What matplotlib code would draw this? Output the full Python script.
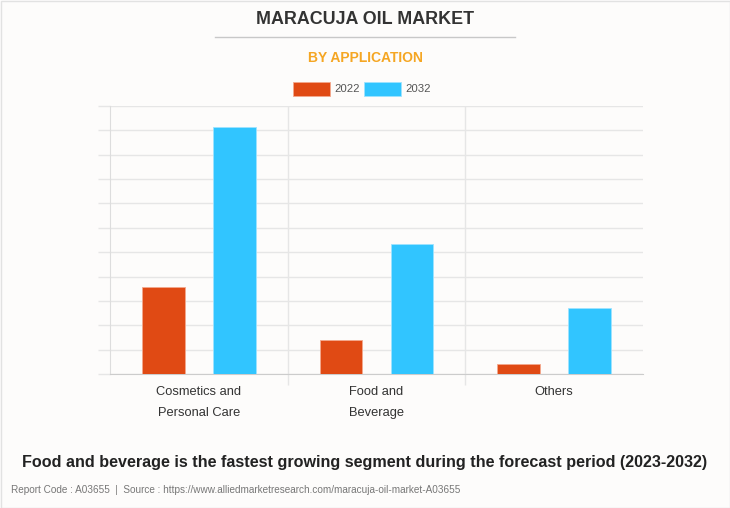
import matplotlib
matplotlib.use("Agg")
import matplotlib.pyplot as plt
from matplotlib import font_manager
from matplotlib.patches import Rectangle
from matplotlib.lines import Line2D
import numpy as np

categories = ["Cosmetics and\nPersonal Care", "Food and\nBeverage", "Others"]
series_names = ["2022", "2032"]
values_2022 = [3.57, 1.39, 0.41]
values_2032 = [10.12, 5.33, 2.70]
colors = ["#E04A14", "#31C5FF"]

names = {f.name for f in font_manager.fontManager.ttflist}
base = "Liberation Sans" if "Liberation Sans" in names else "DejaVu Sans"
narrow = "Liberation Sans Narrow" if "Liberation Sans Narrow" in names else base
plt.rcParams['font.family'] = [base, 'DejaVu Sans']

bg = "#FDFCFB"
fig = plt.figure(figsize=(7.30, 5.08), dpi=100, facecolor=bg)
W, H = 730, 508
ax = fig.add_axes([110 / W, 134 / H, 533 / W, 268 / H])
ax.set_facecolor(bg)

x = np.arange(len(categories))
bw = 0.24
ax.bar(x - 0.2, values_2022, bw, color=colors[0], edgecolor="#F3A98E", linewidth=0.6, zorder=3)
ax.bar(x + 0.2, values_2032, bw, color=colors[1], edgecolor="#9EE3FF", linewidth=0.6, zorder=3)

ax.set_xlim(-0.5, 2.5)
ax.set_ylim(0, 11)
ax.set_yticks(np.arange(0, 12, 1))
ax.set_yticklabels([])
ax.grid(axis='y', color="#E6E6E6", linewidth=1, zorder=0)
ax.set_xticks(x)
ax.set_xticklabels(categories, fontsize=9.3, color="#333333", linespacing=2.03)
ax.tick_params(axis='x', length=0, pad=8.5)
ax.set_xticks([0.5, 1.5], minor=True)
ax.tick_params(axis='x', which='minor', length=8, color="#E6E6E6", width=1)
ax.tick_params(axis='y', length=9, color="#E6E6E6", width=1)
for xv in [0.5, 1.5]:
    ax.axvline(xv, color="#E6E6E6", linewidth=1, zorder=0)
for s in ['top', 'right']:
    ax.spines[s].set_visible(False)
ax.spines['left'].set_color("#DDDDDD")
ax.spines['bottom'].set_color("#CCCCCC")

# Titles
fig.text(365 / W, 1 - 20 / H, "MARACUJA OIL MARKET", ha='center', va='center',
         fontsize=12.9, fontweight='bold', color="#333333")
fig.add_artist(Line2D([215 / W, 515 / W], [1 - 37 / H, 1 - 37 / H], color="#C8C8C8", linewidth=1))
fig.text(365 / W, 1 - 58 / H, "BY APPLICATION", ha='center', va='center',
         fontsize=10, fontweight='bold', color="#F5A623")

# Legend
for i, (lx, name) in enumerate([(293, "2022"), (364, "2032")]):
    fig.add_artist(Rectangle((lx / W, 1 - 96 / H), 37 / W, 14 / H, facecolor=colors[i],
                             edgecolor="#F3A98E" if i == 0 else "#9EE3FF", linewidth=0.6))
    fig.text((lx + 41) / W, 1 - 89 / H, name, ha='left', va='center', fontsize=8.2,
             color="#555555", family=[narrow, 'DejaVu Sans'])

fig.text(365 / W, 1 - 463 / H,
         "Food and beverage is the fastest growing segment during the forecast period (2023-2032)",
         ha='center', va='center', fontsize=11.6, fontweight='bold', color="#222222")
fig.text(11 / W, 1 - 490 / H,
         "Report Code : A03655  |  Source : https://www.alliedmarketresearch.com/maracuja-oil-market-A03655",
         ha='left', va='center', fontsize=7.2, color="#777777", family=[narrow, 'DejaVu Sans'])

fig.add_artist(Rectangle((0.5 / W, 0.5 / H), 729 / W, 507 / H, facecolor='none',
                         edgecolor="#E2E2E2", linewidth=1))

fig.savefig("out.png", dpi=100, facecolor=bg)
